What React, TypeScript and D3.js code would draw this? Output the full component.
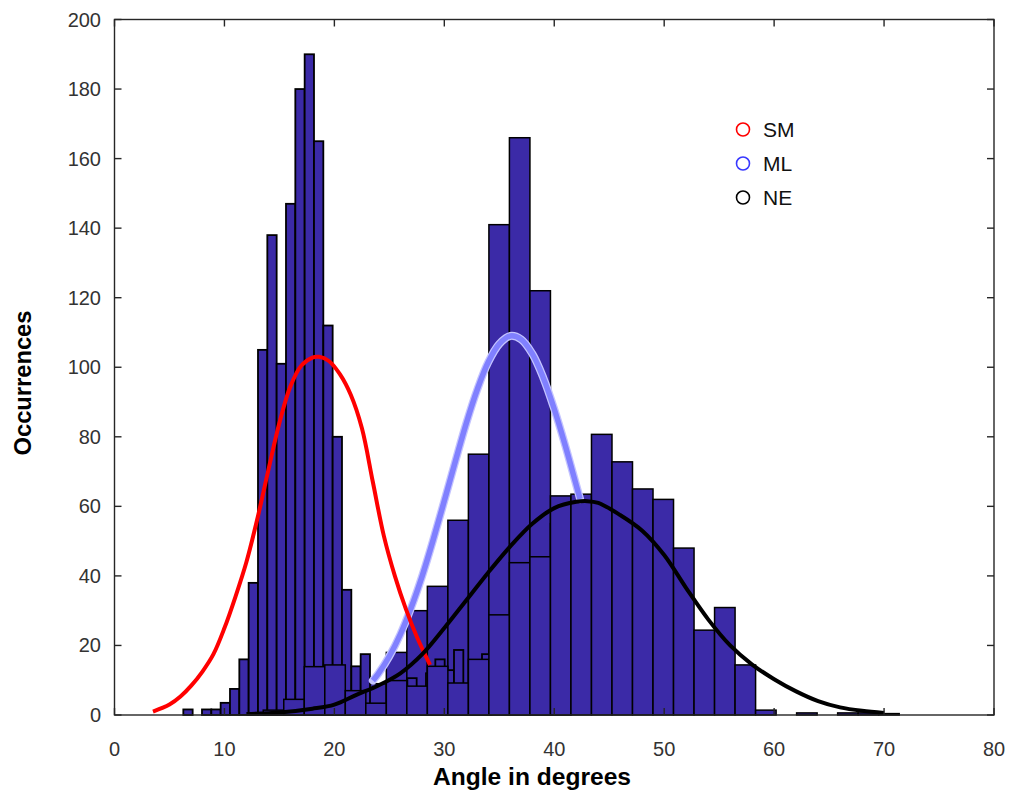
import React, { useEffect, useRef } from 'react';
import * as d3 from 'd3';

// SM histogram (narrow bins), counts per bin from the left
const smStart = 6.26;
const smBinWidth = 0.849;
const smCounts = [
  1.6, 0, 1.6, 1.6, 3.5, 7.5, 16, 38, 105, 138, 101, 147, 180, 190, 165, 112, 80,
  36, 14, 17.5, 3, 3, 8, 7, 10.6, 7, 12, 16, 12.9, 18.7, 8, 9, 17.5,
];

// ML and NE histograms share the wider bins
const wideStart = 13.53;
const wideBinWidth = 1.866;
const mlCounts = [0, 0, 0, 0, 0, 9, 18, 30, 37, 56, 75, 141, 166, 122, 55];
const neCounts = [
  1.4, 4.5, 13.9, 14.4, 7, 3.4, 9.9, 8.3, 14, 9.2, 16, 28.8, 43.8, 45.5, 63, 63.5,
  80.7, 72.8, 65, 62, 48, 24.4, 30.9, 14.4, 1.4, 0, 0.6, 0, 0.6, 0.6, 0.4,
];

// fitted curves: [angle, occurrences]
const smCurve: [number, number][] = [
  [3.5, 1], [5, 3], [6, 5.3], [7, 8.5], [8, 12.5], [9, 17.5], [10, 25], [11, 34],
  [12, 44], [13, 56.5], [14, 70.5], [15, 84], [16, 94.5], [17, 100.5], [18, 102.8],
  [18.6, 103], [19.5, 101.8], [20.5, 98], [21.5, 92], [22.5, 82.5], [23.5, 67],
  [24.5, 51.5], [25.5, 40], [26.5, 30.5], [27.5, 22.5], [28.7, 14.4],
];
const mlCurve: [number, number][] = [
  [23.5, 9.9], [24, 11.9], [25, 16.9], [26, 23.2], [27, 31], [28, 40.1], [29, 50.5],
  [30, 61.6], [31, 72.9], [32, 83.9], [33, 93.6], [34, 101.5], [35, 106.7], [36, 109],
  [37, 108], [38, 103.9], [39, 97], [40, 88], [41, 77.5], [42, 66.1], [42.35, 62.1],
];
const neCurve: [number, number][] = [
  [12, 0.3], [15, 0.7], [18, 1.8], [20, 3], [22, 5.8], [24, 8.5], [26, 12], [28, 17.5],
  [30, 25], [32, 33], [34, 41], [36, 48.5], [38, 55], [40, 59.5], [42, 61.3], [43, 61.5],
  [44, 61], [46, 57.5], [48, 53], [50, 46], [52, 36.5], [54, 27.5], [56, 20], [58, 14.5],
  [60, 10.3], [62, 6.8], [64, 4], [66, 2.2], [68, 1.2], [70, 0.6],
];

const xTicks = [0, 10, 20, 30, 40, 50, 60, 70, 80];
const yTicks = [0, 20, 40, 60, 80, 100, 120, 140, 160, 180, 200];
const legendLabels = ['SM', 'ML', 'NE'];
const legendColors = ['#ff0000', '#3838ff', '#000000'];

const W = 1015;
const H = 792;
const FONT = '"Liberation Sans", Arial, Helvetica, sans-serif';

const App = () => {
  const svgRef = useRef<SVGSVGElement | null>(null);

  useEffect(() => {
    const svg = d3.select(svgRef.current);
    svg.selectAll('*').remove();

    const x = d3.scaleLinear().domain([0, 80]).range([114.5, 994]);
    const y = d3.scaleLinear().domain([0, 200]).range([715, 19.5]);

    svg.append('rect').attr('width', W).attr('height', H).attr('fill', '#fff');

    // histogram bars, drawn ML, SM, NE
    const drawBars = (counts: number[], start: number, bw: number, sw: number) => {
      const bins = counts
        .map((c, i) => ({ x0: start + i * bw, x1: start + (i + 1) * bw, c }))
        .filter((d) => d.c > 0);
      svg
        .append('g')
        .selectAll('rect')
        .data(bins)
        .join('rect')
        .attr('x', (d) => x(d.x0))
        .attr('width', (d) => x(d.x1) - x(d.x0))
        .attr('y', (d) => y(d.c))
        .attr('height', (d) => y(0) - y(d.c))
        .attr('fill', '#3b2aa7')
        .attr('stroke', '#000')
        .attr('stroke-width', sw);
    };
    drawBars(mlCounts, wideStart, wideBinWidth, 1.5);
    drawBars(smCounts, smStart, smBinWidth, 1.8);
    drawBars(neCounts, wideStart, wideBinWidth, 1.5);

    // curves
    const line = d3
      .line<[number, number]>()
      .x((d) => x(d[0]))
      .y((d) => y(d[1]))
      .curve(d3.curveCatmullRom.alpha(0.5));

    svg.append('path').attr('d', line(mlCurve)).attr('fill', 'none')
      .attr('stroke', '#c4c4ff').attr('stroke-width', 8).attr('stroke-linecap', 'round');
    svg.append('path').attr('d', line(mlCurve)).attr('fill', 'none')
      .attr('stroke', '#8080ff').attr('stroke-width', 5.5);
    svg.append('path').attr('d', line(smCurve)).attr('fill', 'none')
      .attr('stroke', '#ff0000').attr('stroke-width', 4);
    svg.append('path').attr('d', line(neCurve)).attr('fill', 'none')
      .attr('stroke', '#000').attr('stroke-width', 4);

    // axes box
    const [x0, x1] = x.range();
    const [y0, y1] = y.range();
    svg.append('rect')
      .attr('x', x0).attr('y', y1).attr('width', x1 - x0).attr('height', y0 - y1)
      .attr('fill', 'none').attr('stroke', '#262626').attr('stroke-width', 1.4);

    const ticks = svg.append('g').attr('stroke', '#262626').attr('stroke-width', 1.4);
    xTicks.forEach((t) => {
      ticks.append('line').attr('x1', x(t)).attr('x2', x(t)).attr('y1', y0).attr('y2', y0 - 7);
      ticks.append('line').attr('x1', x(t)).attr('x2', x(t)).attr('y1', y1).attr('y2', y1 + 7);
    });
    yTicks.forEach((t) => {
      ticks.append('line').attr('x1', x0).attr('x2', x0 + 7).attr('y1', y(t)).attr('y2', y(t));
      ticks.append('line').attr('x1', x1).attr('x2', x1 - 7).attr('y1', y(t)).attr('y2', y(t));
    });

    const labels = svg.append('g').attr('font-family', FONT).attr('font-size', 20).attr('fill', '#333');
    xTicks.forEach((t) => {
      labels.append('text').attr('x', x(t)).attr('y', 756).attr('text-anchor', 'middle').text(t);
    });
    yTicks.forEach((t) => {
      labels.append('text').attr('x', 101).attr('y', y(t) + 7).attr('text-anchor', 'end').text(t);
    });

    // axis titles
    svg.append('text')
      .attr('x', 532).attr('y', 785).attr('text-anchor', 'middle')
      .attr('font-family', FONT).attr('font-size', 23).attr('font-weight', 'bold')
      .attr('textLength', 198).attr('lengthAdjust', 'spacingAndGlyphs')
      .text('Angle in degrees');
    svg.append('text')
      .attr('transform', 'translate(31,383) rotate(-90)').attr('text-anchor', 'middle')
      .attr('font-family', FONT).attr('font-size', 23).attr('font-weight', 'bold')
      .attr('textLength', 145).attr('lengthAdjust', 'spacingAndGlyphs')
      .text('Occurrences');

    // legend
    const legend = svg.append('g').attr('font-family', FONT).attr('font-size', 21);
    legendLabels.forEach((lab, i) => {
      const cy = 129.5 + i * 34;
      legend.append('circle').attr('cx', 743).attr('cy', cy).attr('r', 6.5)
        .attr('fill', 'none').attr('stroke', legendColors[i]).attr('stroke-width', 1.6);
      legend.append('text').attr('x', 763).attr('y', cy + 7.5).attr('fill', '#111').text(lab);
    });
  }, []);

  return (
    <svg
      ref={svgRef}
      width={W}
      height={H}
      style={{ position: 'absolute', left: 0, top: 0, display: 'block' }}
    />
  );
};

export default App;
